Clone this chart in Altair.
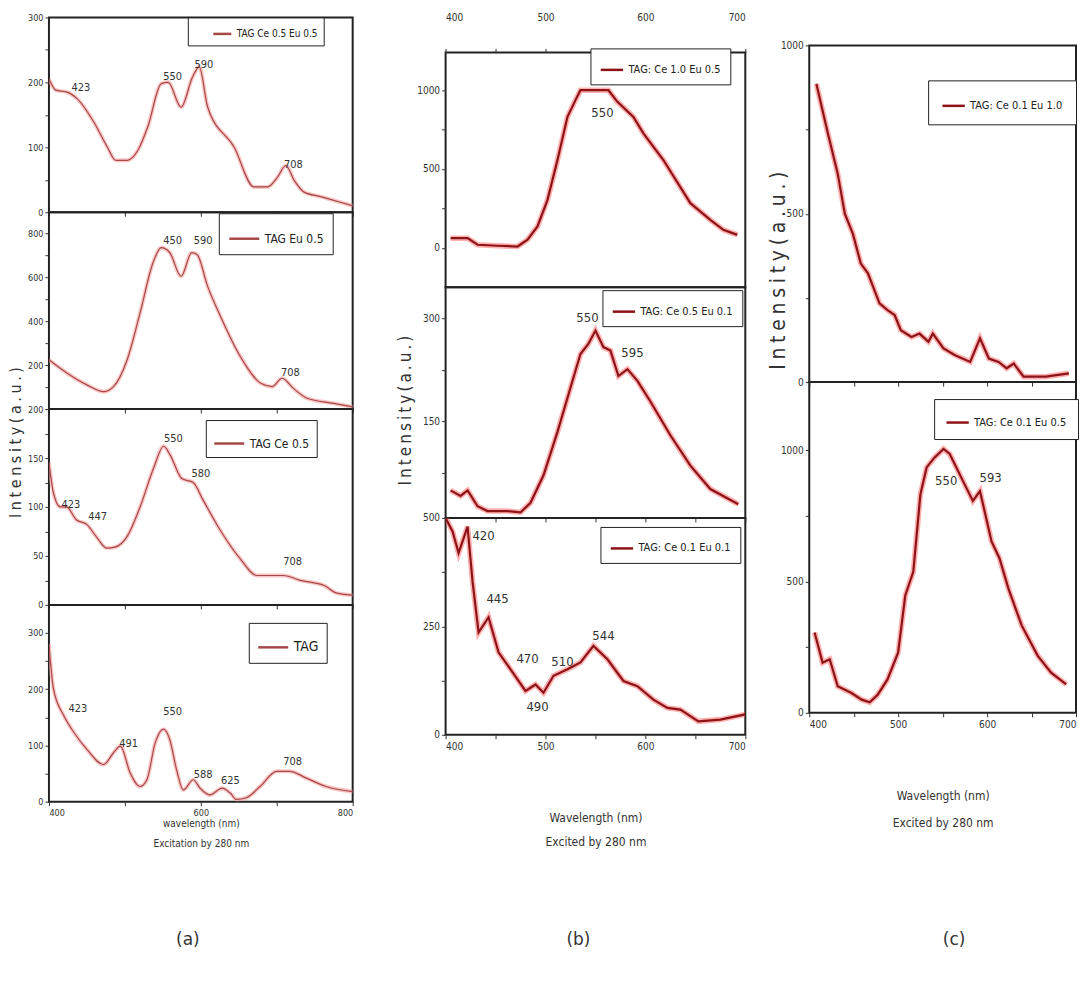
import altair as alt
import pandas as pd

FONT = "Liberation Sans Narrow, DejaVu Sans Condensed, Liberation Sans, sans-serif"

# ---------------- data ----------------
# (a) excitation 280 nm, four stacked spectra
a1_wl = [400, 409, 424, 437, 460, 477, 488, 503, 517, 530, 548, 557, 574, 589, 598, 609, 644, 670, 688, 701, 712, 723, 736, 758, 800]
a1_int = [205, 188, 185, 175, 137, 100, 80, 80, 95, 131, 198, 200, 162, 208, 224, 162, 100, 39, 39, 54, 72, 49, 31, 24, 10]
a1_pk_txt = ["423", "550", "590", "708"]
a1_pk_wl = [442, 563, 604, 722]
a1_pk_val = [191, 208, 226, 72]

a2_wl = [400, 424, 450, 472, 485, 503, 520, 537, 548, 559, 574, 588, 595, 609, 626, 652, 679, 694, 707, 722, 740, 775, 800]
a2_int = [224, 163, 110, 79, 102, 224, 437, 665, 734, 712, 604, 711, 703, 558, 421, 239, 117, 102, 140, 94, 49, 26, 10]
a2_pk_txt = ["450", "590", "708"]
a2_pk_wl = [563, 603, 718]
a2_pk_val = [762, 762, 164]

a3_wl = [400, 406, 415, 423, 436, 450, 463, 476, 487, 503, 520, 538, 551, 559, 575, 590, 603, 625, 652, 674, 709, 731, 762, 779, 800]
a3_int = [145, 114, 100, 100, 87, 82, 69, 58, 59, 70, 100, 140, 162, 154, 129, 125, 107, 77, 47, 30, 30, 25, 20, 12, 10]
a3_pk_txt = ["423", "447", "550", "580", "708"]
a3_pk_wl = [429, 464, 564, 600, 721]
a3_pk_val = [102, 90, 169, 134, 44]

a4_wl = [400, 406, 420, 433, 450, 472, 485, 494, 507, 520, 529, 540, 551, 559, 568, 577, 590, 599, 612, 628, 639, 647, 660, 678, 700, 717, 739, 765, 800]
a4_int = [280, 200, 152, 123, 93, 66, 87, 99, 51, 27, 39, 105, 129, 111, 57, 21, 39, 24, 12, 24, 15, 4, 7, 27, 54, 54, 42, 27, 18]
a4_pk_txt = ["423", "491", "550", "588", "625", "708"]
a4_pk_wl = [438, 505, 563, 603, 639, 721]
a4_pk_val = [164, 102, 159, 48, 36, 70]

# (b)
b1_wl = [405, 422, 432, 452, 472, 482, 492, 502, 512, 522, 530, 535, 563, 572, 588, 598, 618, 645, 665, 678, 692]
b1_int = [61, 61, 19, 13, 8, 51, 135, 304, 557, 831, 937, 1000, 1000, 926, 831, 726, 557, 283, 177, 114, 82]
b1_pk_txt = ["550"]
b1_pk_wl = [557]
b1_pk_val = [854]

b2_wl = [405, 415, 422, 432, 442, 462, 475, 485, 498, 512, 525, 535, 543, 550, 558, 565, 573, 582, 592, 605, 625, 645, 665, 693]
b2_int = [50, 42, 50, 27, 20, 20, 18, 32, 72, 135, 199, 248, 263, 282, 258, 253, 216, 226, 209, 179, 130, 86, 52, 30]
b2_pk_txt = ["550", "595"]
b2_pk_wl = [542, 587]
b2_pk_val = [300, 250]

b3_wl = [400, 407, 413, 422, 427, 433, 443, 453, 465, 480, 490, 498, 508, 522, 535, 548, 562, 578, 592, 608, 622, 635, 653, 675, 700]
b3_int = [500, 469, 419, 480, 353, 236, 271, 190, 151, 101, 116, 97, 136, 151, 167, 205, 174, 124, 112, 81, 62, 58, 31, 35, 47]
b3_pk_txt = ["420", "445", "470", "510", "490", "544"]
b3_pk_wl = [438, 452, 482, 517, 492, 558]
b3_pk_val = [458, 314, 174, 167, 65, 228]

# (c)
c1_wl = [408, 421, 432, 440, 449, 458, 466, 479, 488, 496, 503, 515, 524, 534, 539, 551, 564, 581, 592, 602, 613, 622, 630, 641, 666, 692]
c1_int = [886, 738, 619, 500, 441, 352, 323, 234, 214, 199, 154, 134, 144, 120, 144, 100, 80, 60, 130, 70, 60, 41, 55, 16, 16, 26]
c1_pk_txt = []
c1_pk_wl = []
c1_pk_val = []

c2_wl = [406, 415, 423, 432, 447, 459, 468, 477, 488, 500, 508, 517, 525, 532, 541, 551, 558, 571, 584, 592, 605, 614, 624, 639, 657, 672, 689]
c2_int = [306, 191, 204, 101, 76, 50, 40, 69, 127, 230, 447, 537, 832, 935, 973, 1005, 986, 896, 807, 845, 653, 588, 473, 332, 217, 153, 108]
c2_pk_txt = ["550", "593"]
c2_pk_wl = [554, 604]
c2_pk_val = [885, 896]

names = {
    "a1": "TAG Ce 0.5 Eu 0.5", "a2": "TAG Eu 0.5", "a3": "TAG Ce 0.5", "a4": "TAG",
    "b1": "TAG: Ce 1.0 Eu 0.5", "b2": "TAG: Ce 0.5 Eu 0.1", "b3": "TAG: Ce 0.1 Eu 0.1",
    "c1": "TAG: Ce 0.1 Eu 1.0", "c2": "TAG: Ce 0.1 Eu 0.5",
}

SP4 = "\u2005"  # four-per-em space, for the letter-spaced axis titles
YTITLE_A = SP4.join("Intensity(a.u.)")
YTITLE_B = "\u2009".join("Intensity(a.u.)")
YTITLE_C = SP4.join("Intensity(a.u.)")

STYLE_A = dict(core="#a84848", halo="#f4a0a0", cw=1.2, hw=4, ho=0.6, interp="monotone",
               lab=9, pk=11, legpad=7)
STYLE_B = dict(core="#8c1418", halo="#ff5050", cw=2.2, hw=5.5, ho=0.45, interp="linear",
               lab=10, pk=13, legpad=9)


def panel(wl, inten, pk_txt, pk_wl, pk_val, name, xdom, ydom, w, h, style,
          yvals, ylabels, xvals, xlabels, xorient="bottom", show_xlabels=False,
          legend_xy=(0, 0), leg_font=11, sym_size=500, sym_offset=0, leg_pad=None,
          ytitle=None, ytitle_xy=None, ytitle_size=13,
          xtitle=None, xtitle_pad=4, xtitle_lh=24, caption=None, caption_xy=None):
    df = pd.DataFrame({"wl": wl, "val": inten, "s": [name] * len(wl)})
    ylab_expr = "indexof([" + ",".join(str(v) for v in ylabels) + "], datum.value) >= 0 ? datum.label : ''"
    xlab_expr = "indexof([" + ",".join(str(v) for v in xlabels) + "], datum.value) >= 0 ? datum.label : ''"
    yaxis_kw = dict(values=yvals, labelExpr=ylab_expr, labelFontSize=style["lab"], tickSize=4,
                    labelPadding=2, grid=False, domain=False, format="d")
    if ytitle:
        yaxis_kw.update(title=ytitle, titleX=ytitle_xy[0], titleY=ytitle_xy[1], titleFontSize=ytitle_size,
                        titleFont=FONT, titleFontWeight="normal", titleColor="#333", titleAngle=270,
                        titleAlign="center", titleBaseline="middle")
    else:
        yaxis_kw.update(title=None)
    xaxis_kw = dict(values=xvals, labelExpr=xlab_expr, labelFontSize=style["lab"], tickSize=4,
                    labels=show_xlabels, orient=xorient, grid=False, domain=False, labelPadding=3)
    if xorient == "top":
        xaxis_kw.update(labelPadding=26)
    if xtitle:
        xaxis_kw.update(title=xtitle, titleFontSize=style["pk"] - 1, titleFont=FONT, titleFontWeight="normal",
                        titleColor="#333", titlePadding=xtitle_pad, titleLineHeight=xtitle_lh)
    else:
        xaxis_kw.update(title=None)

    x = alt.X("wl:Q", scale=alt.Scale(domain=xdom, nice=False, zero=False), axis=alt.Axis(**xaxis_kw))
    y = alt.Y("val:Q", scale=alt.Scale(domain=ydom, nice=False, zero=False), axis=alt.Axis(**yaxis_kw))

    base = alt.Chart(df)
    halo = base.mark_line(color=style["halo"], strokeWidth=style["hw"], opacity=style["ho"],
                          interpolate=style["interp"], clip=True).encode(x=x, y=y)
    core = base.mark_line(strokeWidth=style["cw"], interpolate=style["interp"], clip=True).encode(
        x=x, y=y,
        color=alt.Color("s:N", scale=alt.Scale(domain=[name], range=[style["core"]]),
                        legend=alt.Legend(title=None, orient="none", legendX=legend_xy[0], legendY=legend_xy[1],
                                          fillColor="white", strokeColor="#222",
                                          padding=leg_pad if leg_pad is not None else style["legpad"],
                                          symbolType="stroke", symbolSize=sym_size, symbolStrokeWidth=2.5,
                                          symbolOffset=sym_offset,
                                          labelFont=FONT, labelFontSize=leg_font, labelColor="#222")))
    layers = [halo, core]
    if pk_txt:
        pk = pd.DataFrame({"wl": pk_wl, "val": pk_val, "t": pk_txt})
        layers.append(alt.Chart(pk).mark_text(font=FONT, fontSize=style["pk"], color="#333").encode(
            x=x, y=y, text="t:N"))
    if caption:
        cap = pd.DataFrame({"c": [caption]})
        layers.append(alt.Chart(cap).mark_text(font="DejaVu Sans", fontSize=17, color="#333").encode(
            text="c:N", x=alt.value(caption_xy[0]), y=alt.value(caption_xy[1])))
    return alt.layer(*layers).properties(width=w, height=h)


def spacer(w, h):
    return alt.Chart(pd.DataFrame({"z": [0]})).mark_point(opacity=0).encode(
        x=alt.value(0), y=alt.value(0)).properties(width=w, height=h,
                                                    view=alt.ViewBackground(stroke="transparent"))


AX = [400, 800]
AXV = [400, 500, 600, 700, 800]
AXL = [400, 600, 800]
a1 = panel(a1_wl, a1_int, a1_pk_txt, a1_pk_wl, a1_pk_val, names["a1"], AX, [0, 300], 304, 195, STYLE_A,
           [0, 50, 100, 150, 200, 250, 300], [0, 100, 200, 300], AXV, AXL, legend_xy=(139, 0),
           leg_font=10, sym_size=324, sym_offset=18, leg_pad=6)
a2 = panel(a2_wl, a2_int, a2_pk_txt, a2_pk_wl, a2_pk_val, names["a2"], AX, [0, 895], 304, 197, STYLE_A,
           [0, 100, 200, 300, 400, 500, 600, 700, 800], [200, 400, 600, 800], AXV, AXL, legend_xy=(170, 1),
           leg_font=12, sym_size=900, leg_pad=9)
a3 = panel(a3_wl, a3_int, a3_pk_txt, a3_pk_wl, a3_pk_val, names["a3"], AX, [0, 200], 304, 196, STYLE_A,
           [0, 25, 50, 75, 100, 125, 150, 175, 200], [0, 50, 100, 150, 200], AXV, AXL, legend_xy=(157, 11),
           leg_font=12, sym_size=900, leg_pad=7,
           ytitle=YTITLE_A, ytitle_xy=(-33, 33), ytitle_size=16)
a4 = panel(a4_wl, a4_int, a4_pk_txt, a4_pk_wl, a4_pk_val, names["a4"], AX, [0, 350], 304, 197, STYLE_A,
           [0, 50, 100, 150, 200, 250, 300], [0, 100, 200, 300], AXV, AXL, show_xlabels=True,
           legend_xy=(200, 18), leg_font=14, sym_size=900, leg_pad=8,
           xtitle=["wavelength (nm)", "Excitation by 280 nm"], xtitle_pad=1, xtitle_lh=20,
           caption="(a)", caption_xy=(139, 335))
col_a = alt.vconcat(a1, a2, a3, a4, spacing=0, bounds="flush").resolve_scale(
    x="independent", y="independent", color="independent")

BX = [400, 700]
BXV = [400, 450, 500, 550, 600, 650, 700]
BXL = [400, 500, 600, 700]
b1 = panel(b1_wl, b1_int, b1_pk_txt, b1_pk_wl, b1_pk_val, names["b1"], BX, [-250, 1240], 300, 235, STYLE_B,
           [0, 250, 500, 750, 1000], [0, 500, 1000], BXV, BXL, xorient="top", show_xlabels=True,
           legend_xy=(145, -4))
b2 = panel(b2_wl, b2_int, b2_pk_txt, b2_pk_wl, b2_pk_val, names["b2"], BX, [10, 345], 300, 231, STYLE_B,
           [75, 150, 225, 300], [150, 300], BXV, BXL, legend_xy=(157, 3),
           ytitle=YTITLE_B, ytitle_xy=(-40, 123), ytitle_size=17)
b3 = panel(b3_wl, b3_int, b3_pk_txt, b3_pk_wl, b3_pk_val, names["b3"], BX, [0, 500], 300, 217, STYLE_B,
           [0, 125, 250, 375, 500], [0, 250, 500], BXV, BXL, show_xlabels=True, legend_xy=(155, 9),
           xtitle=["Wavelength (nm)", "Excited by 280 nm"], xtitle_pad=61, xtitle_lh=24,
           caption="(b)", caption_xy=(133, 422))
col_b = alt.vconcat(spacer(300, 35), b1, b2, b3, spacing=0, bounds="flush").resolve_scale(
    x="independent", y="independent", color="independent")

c1 = panel(c1_wl, c1_int, c1_pk_txt, c1_pk_wl, c1_pk_val, names["c1"], BX, [0, 1000], 267, 337, STYLE_B,
           [0, 250, 500, 750, 1000], [0, 500, 1000], BXV, BXL, legend_xy=(119, 35), leg_pad=13,
           ytitle=YTITLE_C, ytitle_xy=(-31, 225), ytitle_size=21)
c2 = panel(c2_wl, c2_int, c2_pk_txt, c2_pk_wl, c2_pk_val, names["c2"], BX, [0, 1260], 267, 331, STYLE_B,
           [0, 250, 500, 750, 1000], [0, 500, 1000], BXV, BXL, show_xlabels=True, legend_xy=(125, 17),
           leg_pad=11,
           xtitle=["Wavelength (nm)", "Excited by 280 nm"], xtitle_pad=61, xtitle_lh=27,
           caption="(c)", caption_xy=(145, 558))
col_c = alt.vconcat(spacer(267, 28), c1, c2, spacing=0, bounds="flush").resolve_scale(
    x="independent", y="independent", color="independent")

ab = alt.hconcat(col_a, col_b, spacing=41).resolve_scale(
    x="independent", y="independent", color="independent")
chart = alt.hconcat(ab, col_c, spacing=19).resolve_scale(
    x="independent", y="independent", color="independent").properties(
    padding={"left": 6, "top": 11, "right": 0, "bottom": 0}, background="white"
).configure_view(stroke="#222", strokeWidth=2).configure_axis(
    labelFont=FONT, labelColor="#333", tickColor="#333", tickWidth=1
)

chart.save("out.html", embed_options={"renderer": "svg", "actions": False})
